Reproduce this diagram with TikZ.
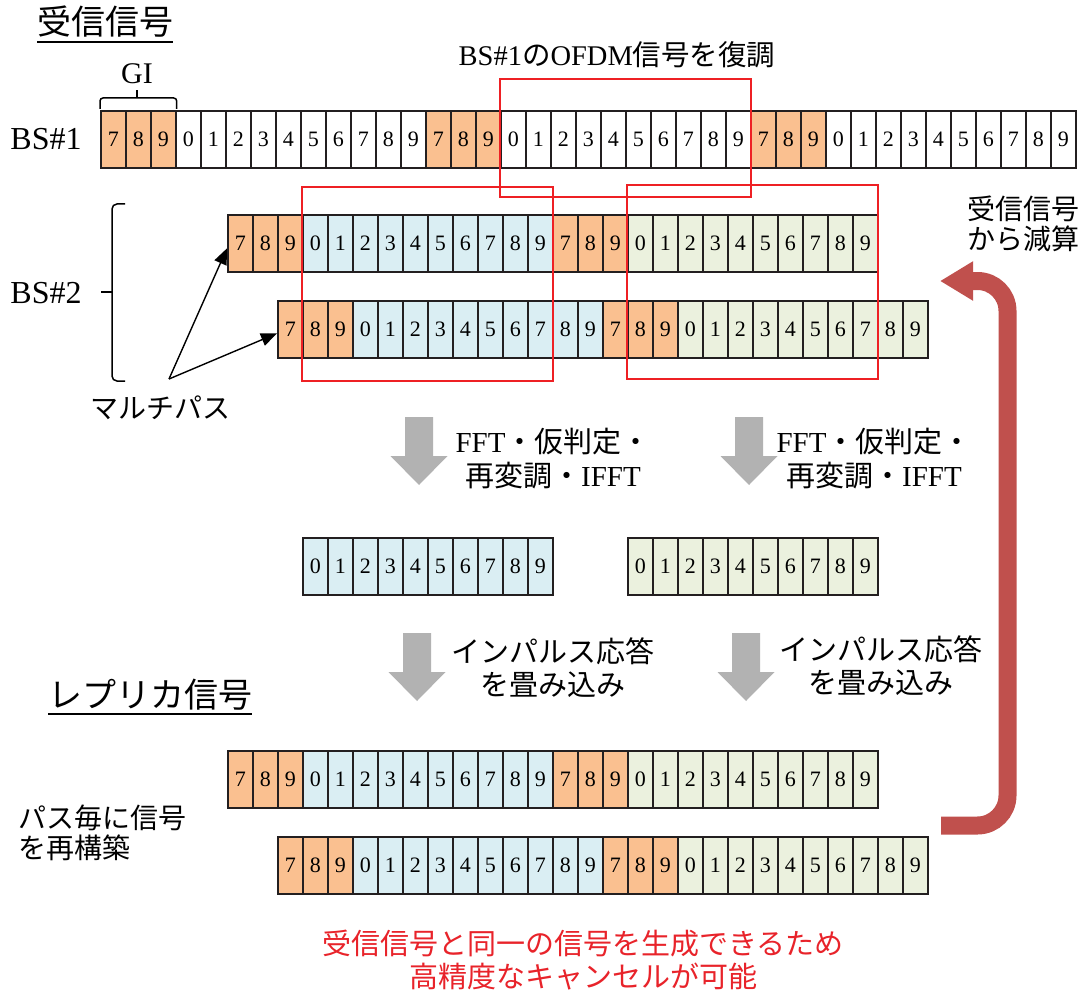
\documentclass[tikz,border=0pt]{standalone}
\usepackage{fontspec}
\setmainfont{Liberation Serif}
\newfontfamily\jp{Noto Sans CJK JP}
\usetikzlibrary{arrows.meta}
\definecolor{cO}{HTML}{FAC090}
\definecolor{cB}{HTML}{DAEEF3}
\definecolor{cG}{HTML}{EBF1DE}
\definecolor{cW}{HTML}{FFFFFF}
\definecolor{cellline}{HTML}{231F20}
\definecolor{boxred}{HTML}{EE2024}
\definecolor{txtred}{HTML}{E8232A}
\definecolor{bigred}{HTML}{C0504D}
\definecolor{garrow}{HTML}{B2B2B2}
\def\GI{7/cO,8/cO,9/cO}
\def\DW{0/cW,1/cW,2/cW,3/cW,4/cW,5/cW,6/cW,7/cW,8/cW,9/cW}
\def\DB{0/cB,1/cB,2/cB,3/cB,4/cB,5/cB,6/cB,7/cB,8/cB,9/cB}
\def\DG{0/cG,1/cG,2/cG,3/cG,4/cG,5/cG,6/cG,7/cG,8/cG,9/cG}
\edef\rowA{\GI,\DW,\GI,\DW,\GI,\DW}
\edef\rowB{\GI,\DB,\GI,\DG}
\newcommand\cellrow[4]{%
  \foreach \dg/\cl [count=\i from 0] in #4 {
    \node[cellbox, fill=\cl] (#1-\i) at (#2+25*\i, #3) {\dg};
  }%
}
\newcommand\garr[3]{%
  \fill[garrow] (#1-14,#2) -- (#1+14,#2) -- (#1+14,#3-29) -- (#1+28.5,#3-29)
    -- (#1,#3) -- (#1-28.5,#3-29) -- (#1-14,#3-29) -- cycle;%
}
\tikzset{
  cellbox/.style={draw=cellline, line width=1.7pt, minimum width=25pt,
    minimum height=57pt, inner sep=0pt, anchor=north west,
    font=\fontsize{22}{22}\selectfont},
  redbox/.style={draw=boxred, line width=1.8pt},
  jptext/.style={font=\jp\fontsize{28}{30}\selectfont, inner sep=0pt},
  ultitle/.style={font=\jp\fontsize{34}{36}\selectfont, inner sep=0pt, anchor=base west},
  bslabel/.style={font=\fontsize{32}{34}\selectfont, inner sep=0pt},
  twoline/.style={font=\fontsize{29}{34}\selectfont, align=center, inner sep=0pt},
  mparrow/.style={line width=1.4pt, draw=black, -{Triangle[length=16pt,width=13pt]}},
}
\begin{document}
\begin{tikzpicture}[x=1pt,y=-1pt]
\useasboundingbox (0,0) rectangle (1086,992);

% titles
\node[ultitle] (t1) at (37,35) {受信信号};
\draw[line width=2pt] ([yshift=-7pt]t1.base west) -- ([yshift=-7pt]t1.base east);
\node[ultitle] (t2) at (48,707) {レプリカ信号};
\draw[line width=2pt] ([yshift=-7pt]t2.base west) -- ([yshift=-7pt]t2.base east);

% BS#1
\node[bslabel] (bs1) at (46,139) {BS\#1};
\cellrow{bsA}{100}{110}{\rowA}
\node[font=\fontsize{30}{30}\selectfont, inner sep=0pt] (gi) at (137,74) {GI};
\draw[line width=1.5pt, rounded corners=3pt] (bsA-0.north west)+(0,-1) |- (137,98) -| ([yshift=1pt]bsA-2.north east);
\draw[line width=1.5pt] (137,98) -- (137,90);
\node[font=\fontsize{28.5}{30}\selectfont, inner sep=0pt] (demod) at (617,55) {BS\#1{\jp の}OFDM{\jp 信号を復調}};

% BS#2
\node[bslabel] (bs2) at (46,293) {BS\#2};
\cellrow{p1}{227}{214}{\rowB}
\cellrow{p2}{277}{300}{\rowB}
\draw[line width=1.5pt, rounded corners=5pt] (125,204) -- (112,204) -- (112,381) -- (125,381);
\draw[line width=1.5pt] (112,292) -- (101,292);

% multipath
\coordinate (mp) at (169,379);
\node[jptext] (mpt) at (160,408) {マルチパス};
\draw[mparrow] (mp) -- ([yshift=-5pt]p1-0.west);
\draw[mparrow] (mp) -- ([yshift=-4pt]p2-0.west);

% red windows
\draw[redbox] (500,79) rectangle (751,197);
\draw[redbox] (302,187) rectangle (553,381);
\draw[redbox] (627,185) rectangle (878,379);

% gray arrows and texts
\garr{419}{417}{485}
\garr{749}{417}{485}
\garr{417}{633}{701}
\garr{746}{633}{701}
\node[twoline] (fft1) at (553,459) {FFT{\jp ・仮判定・}\\{\jp 再変調・}IFFT};
\node[twoline] (fft2) at (874,459) {FFT{\jp ・仮判定・}\\{\jp 再変調・}IFFT};
\node[twoline, font=\jp\fontsize{29}{33}\selectfont] (imp1) at (553,668) {インパルス応答\\を畳み込み};
\node[twoline, font=\jp\fontsize{29}{33}\selectfont] (imp2) at (881,666) {インパルス応答\\を畳み込み};

% demodulated symbols
\cellrow{mL}{302}{537}{\DB}
\cellrow{mR}{627}{537}{\DG}

% replicas
\cellrow{q1}{227}{750}{\rowB}
\cellrow{q2}{277}{836}{\rowB}
\node[jptext, align=left, anchor=west, font=\jp\fontsize{28}{30}\selectfont] (rebuild) at (18,833) {パス毎に信号\\を再構築};

% subtract arrow
\node[jptext, align=left] (sub) at (1023,224) {受信信号\\から減算};
\coordinate (rs) at (941,825.5);
\coordinate (re) at (940,281);
\draw[draw=bigred, line width=18pt, rounded corners=30pt, -{Triangle[length=33pt,width=37pt]}]
  (rs) -- (1007.5,825.5) -- (1007.5,281) -- (re);

% conclusion
\node[twoline, text=txtred, font=\jp\fontsize{29}{33}\selectfont] (concl) at (583,960) {受信信号と同一の信号を生成できるため\\高精度なキャンセルが可能};
\end{tikzpicture}
\end{document}
